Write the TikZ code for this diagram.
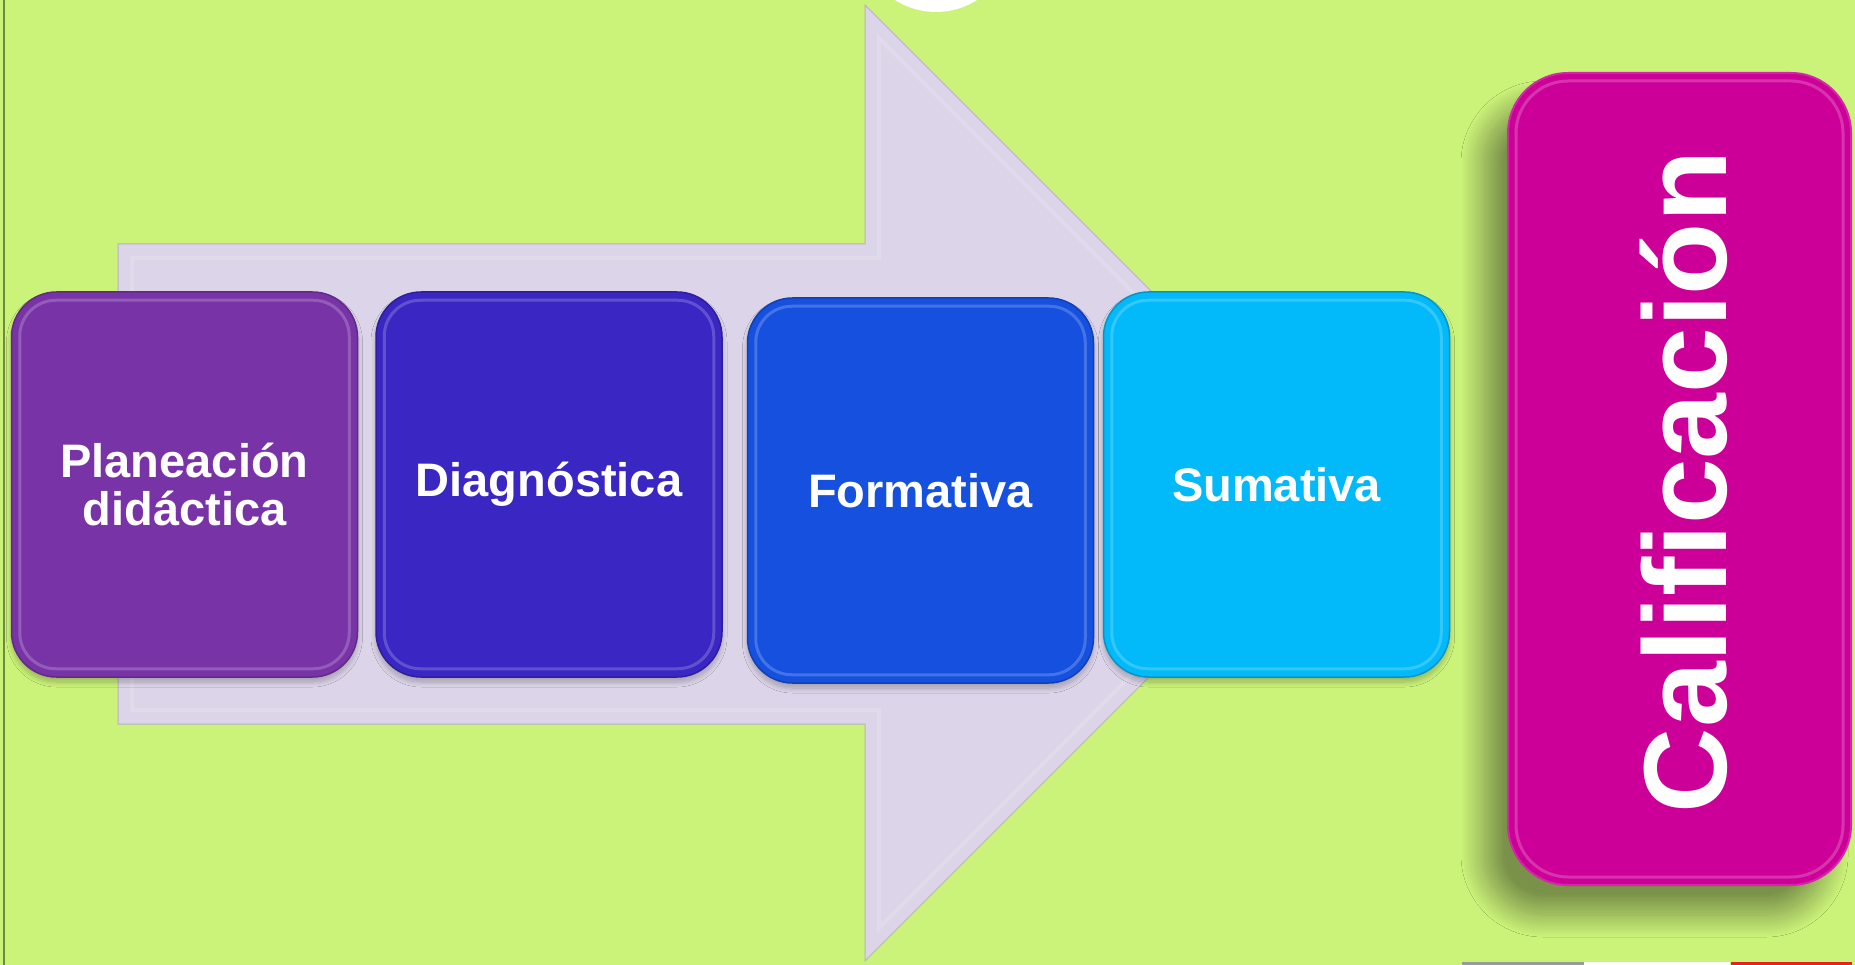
\documentclass[tikz,border=0pt]{standalone}
\usepackage{fontspec}
\setmainfont{Liberation Sans}
\usetikzlibrary{shadows.blur}
\definecolor{bggreen}{HTML}{CBF279}
\definecolor{edgeolive}{HTML}{6E8B3D}
\definecolor{arrowfill}{HTML}{DCD4E8}
\definecolor{arrowedge}{HTML}{B9B2C6}
\definecolor{cplan}{HTML}{7834A7}
\definecolor{cdiag}{HTML}{3A26C3}
\definecolor{cform}{HTML}{1550DF}
\definecolor{csuma}{HTML}{02BAF9}
\definecolor{ccali}{HTML}{CC0099}
\definecolor{stripgray}{HTML}{9A9A9A}
\definecolor{stripred}{HTML}{E82020}
\tikzset{
  stagebox/.style={rectangle, rounded corners=45pt, inner sep=0pt,
    minimum width=346pt, minimum height=385pt, line width=1.5pt,
    text=white, align=center,
    font=\bfseries\fontsize{47}{48}\selectfont,
    blur shadow={shadow xshift=0pt, shadow yshift=-5pt, shadow blur radius=5pt, shadow blur steps=10, shadow opacity=25}},
  bevel/.style={rounded corners=36pt, line width=3pt, draw=white, draw opacity=0.2},
}
\begin{document}
\begin{tikzpicture}[x=1pt,y=-1pt]
\useasboundingbox (0,0) rectangle (1855,965);
\fill[bggreen] (0,0) rectangle (1855,965);
\draw[edgeolive, line width=1.5pt] (4,0) -- (4,965);
% white circle at top
\fill[white] (936,-64) circle (76);
% big arrow
\draw[fill=arrowfill, draw=arrowedge, line width=1pt]
  (118,244) -- (865,244) -- (865,5) -- (1343,483) -- (865,961) -- (865,724) -- (118,724) -- cycle;
\draw[white, opacity=0.15, line width=4pt]
  (132,258) -- (879,258) -- (879,38) -- (1323,483) -- (879,928) -- (879,710) -- (132,710) -- cycle;
% stage boxes
\node[stagebox, fill=cplan, draw=cplan!80!black] (plan) at (184.5,484.5) {Planeación\\didáctica};
\node[stagebox, fill=cdiag, draw=cdiag!80!black] (diag) at (549,484.5) {Diagnóstica};
\node[stagebox, fill=cform, draw=cform!80!black] (form) at (920.5,490.5) {Formativa};
\node[stagebox, fill=csuma, draw=csuma!80!black] (suma) at (1276.5,484.5) {Sumativa};
\foreach \n in {plan,diag,form,suma}{
  \draw[bevel] ([xshift=9pt,yshift=-9pt]\n.north west) rectangle ([xshift=-9pt,yshift=9pt]\n.south east);
}
% Calificacion box
\node[rectangle, rounded corners=60pt, inner sep=0pt, minimum width=343pt, minimum height=812pt,
  fill=ccali, draw=ccali!85!white, line width=2pt,
  blur shadow={shadow xshift=-25pt, shadow yshift=-30pt, shadow blur radius=22pt, shadow blur steps=25, shadow opacity=40}]
  (cali) at (1679.5,479) {};
\draw[rounded corners=52pt, line width=3pt, draw=white, draw opacity=0.2]
  ([xshift=9pt,yshift=-9pt]cali.north west) rectangle ([xshift=-9pt,yshift=9pt]cali.south east);
\node[rotate=90, text=white, font=\bfseries\fontsize{118}{120}\selectfont, inner sep=0pt]
  (calit) at (1684,482) {Calificación};
% bottom strips
\fill[stripgray] (1462,962) rectangle (1584,965);
\fill[white] (1584,962) rectangle (1730,965);
\fill[stripred] (1731,962) rectangle (1852,965);
\end{tikzpicture}
\end{document}
